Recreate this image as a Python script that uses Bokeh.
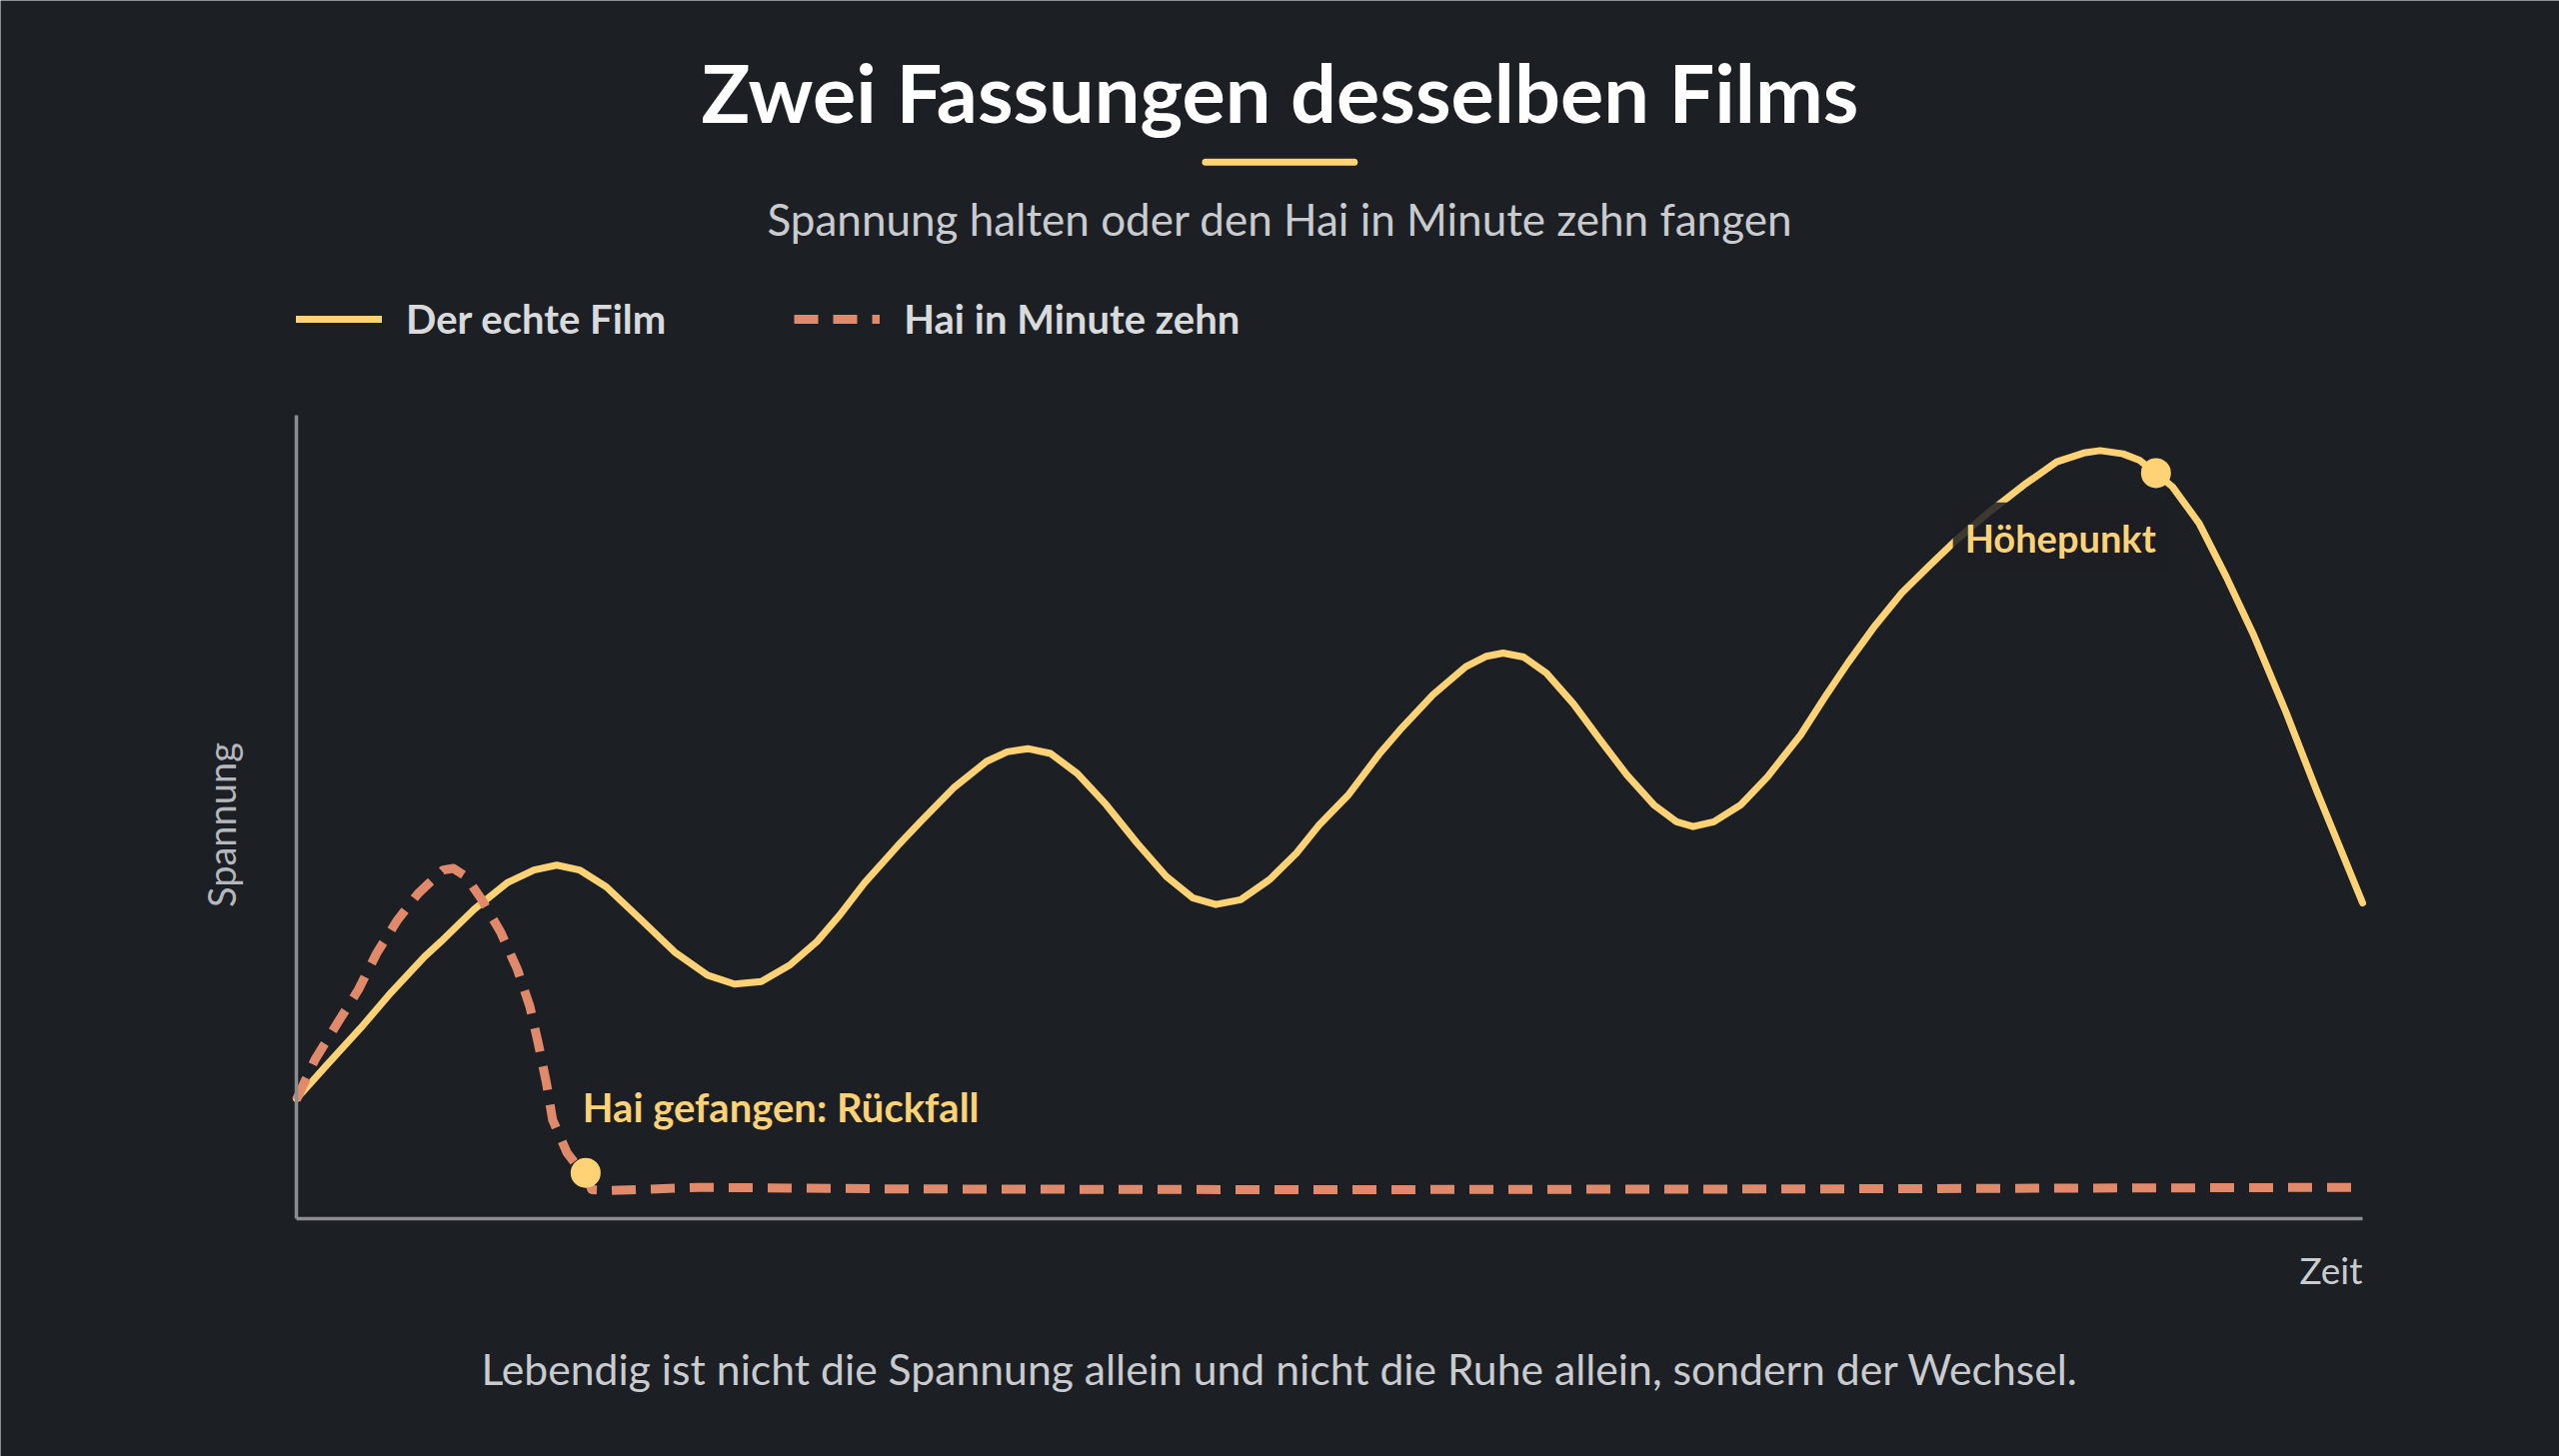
from bokeh.embed import file_html
from bokeh.models import (ColumnDataSource, FixedTicker, Label, Legend,
                          LegendItem, LinearAxis, Range1d)
from bokeh.plotting import figure
from bokeh.resources import INLINE

# --- data: tension over film time (both in percent of the plot) ---
zeit_echt = [0, 1.5, 3.1, 4.6, 6.2, 7.0, 8.6, 10.2, 11.5, 12.6, 13.7, 15.0,
             16.6, 18.3, 19.9, 21.2, 22.5, 23.9, 25.2, 26.3, 27.5, 29.1,
             30.2, 31.8, 33.4, 34.4, 35.4, 36.5, 37.8, 39.2, 40.7, 42.1,
             43.4, 44.5, 45.7, 47.1, 48.4, 49.5, 50.9, 52.4, 53.4, 55.0,
             56.6, 57.6, 58.4, 59.4, 60.5, 61.8, 63.1, 64.4, 65.7, 66.8,
             67.6, 68.6, 69.9, 71.2, 72.8, 74.0, 75.1, 76.4, 77.7, 79.0,
             80.3, 82.0, 83.6, 85.2, 86.5, 87.3, 88.4, 89.2, 90.0, 90.8,
             92.1, 93.4, 94.7, 96.3, 97.8, 100]
spannung_echt = [14.9, 19.2, 23.7, 28.2, 32.6, 34.5, 38.5, 41.8, 43.4, 44.0,
                 43.4, 41.3, 37.4, 33.2, 30.3, 29.2, 29.5, 31.6, 34.5, 37.8,
                 41.8, 46.4, 49.4, 53.6, 56.9, 58.1, 58.5, 57.9, 55.4, 51.5,
                 46.7, 42.6, 39.9, 39.1, 39.7, 42.2, 45.5, 49.0, 52.7, 57.8,
                 60.8, 65.2, 68.7, 70.0, 70.4, 69.9, 67.9, 64.1, 59.6, 55.2,
                 51.5, 49.4, 48.8, 49.4, 51.5, 55.0, 60.2, 65.0, 69.2, 73.8,
                 77.9, 81.2, 84.4, 88.1, 91.3, 94.2, 95.3, 95.6, 95.2, 94.4,
                 92.8, 91.1, 86.5, 79.9, 72.8, 63.0, 53.1, 39.3]

zeit_hai = [0, 0.9, 2.0, 3.0, 3.9, 4.9, 5.9, 6.6, 7.1, 7.6, 8.2, 8.95, 9.9,
            10.7, 11.3, 11.7, 12.1, 12.4, 13.1, 13.6, 14.0, 14.3, 15.2, 19.5,
            29.2, 48.6, 72.8, 100]
spannung_hai = [14.8, 19.8, 24.4, 28.5, 33.1, 37.2, 40.5, 42.2, 43.4, 43.6,
                42.6, 39.8, 35.6, 31.0, 26.4, 21.9, 16.9, 12.3, 8.2, 6.5, 5.7,
                3.6, 3.5, 3.9, 3.7, 3.6, 3.7, 3.9]

hoehepunkt = (90.0, 92.8)
rueckfall = (14.0, 5.7)

BG = "#1c1f24"
GELB = "#ffd275"
LACHS = "#e0896b"
GRAU = "#8a8d91"
FONT = "Lato"

# the frame fills the whole canvas; data 0..100 sits on the drawn axes
p = figure(width=2560, height=1457, output_backend="svg", toolbar_location=None,
           x_range=Range1d(-14.32, 109.53), y_range=Range1d(-29.60, 151.62),
           x_axis_location=None, y_axis_location=None, min_border=0,
           background_fill_color=BG, border_fill_color=BG,
           outline_line_color=None)
p.xgrid.grid_line_color = None
p.ygrid.grid_line_color = None

for loc in ("below", "left"):
    ax = LinearAxis(fixed_location=0, bounds=(0, 100), ticker=FixedTicker(ticks=[]),
                    axis_line_color=GRAU, axis_line_width=3.5,
                    major_tick_line_color=None, minor_tick_line_color=None,
                    major_label_text_font_size="0px")
    p.add_layout(ax, loc)

src_echt = ColumnDataSource(data=dict(x=zeit_echt, y=spannung_echt))
src_hai = ColumnDataSource(data=dict(x=zeit_hai, y=spannung_hai))

r_echt = p.line("x", "y", source=src_echt, line_color=GELB, line_width=7,
                line_join="round", line_cap="round")
r_hai = p.line("x", "y", source=src_hai, line_color=LACHS, line_width=9,
               line_dash="24 15", line_join="round")

p.scatter([hoehepunkt[0], rueckfall[0]], [hoehepunkt[1], rueckfall[1]],
          size=30, fill_color=GELB, line_color=None)

# title block
p.add_layout(Label(x=47.6, y=140.3, text="Zwei Fassungen desselben Films",
                   text_align="center", text_baseline="alphabetic",
                   text_font=FONT, text_font_size="81px", text_font_style="bold",
                   text_color="#ffffff"))
p.segment(x0=[44.0], y0=[131.5], x1=[51.2], y1=[131.5], line_color=GELB,
          line_width=7, line_cap="round")
p.add_layout(Label(x=47.6, y=124.4,
                   text="Spannung halten oder den Hai in Minute zehn fangen",
                   text_align="center", text_baseline="alphabetic",
                   text_font=FONT, text_font_size="44px", text_color="#c9cbce"))

legend = Legend(items=[LegendItem(label="Der echte Film", renderers=[r_echt]),
                       LegendItem(label="Hai in Minute zehn", renderers=[r_hai])],
                location=(296, 1114), orientation="horizontal",
                glyph_width=86, glyph_height=40, label_height=40,
                label_standoff=24, spacing=128, padding=0, margin=0,
                background_fill_alpha=0, border_line_color=None,
                label_text_font=FONT, label_text_font_size="40px",
                label_text_font_style="bold", label_text_color="#d9dadc")
p.add_layout(legend)

# annotations
p.add_layout(Label(x=90.58, y=84.8, text="Höhepunkt",
                   text_align="right", text_baseline="alphabetic",
                   text_font=FONT, text_font_size="38px", text_font_style="bold",
                   text_color=GELB, background_fill_color=BG,
                   background_fill_alpha=0.85, padding=12))
p.add_layout(Label(x=13.85, y=13.9, text="Hai gefangen: Rückfall",
                   text_align="left", text_baseline="alphabetic",
                   text_font=FONT, text_font_size="40px", text_font_style="bold",
                   text_color=GELB))

# axis names
p.add_layout(Label(x=-3.65, y=49.0, text="Spannung", angle=90, angle_units="deg",
                   text_align="center", text_baseline="middle",
                   text_font=FONT, text_font_size="38px", text_color="#b4b7bb"))
p.add_layout(Label(x=100, y=-6.4, text="Zeit", text_align="right",
                   text_baseline="alphabetic", text_font=FONT,
                   text_font_size="37px", text_color="#c9cbce"))

p.add_layout(Label(x=47.6, y=-18.7,
                   text="Lebendig ist nicht die Spannung allein und nicht die Ruhe allein, sondern der Wechsel.",
                   text_align="center", text_baseline="alphabetic",
                   text_font=FONT, text_font_size="42.7px", text_color="#c9cbce"))

open("out.html", "w").write(file_html(p, INLINE))
